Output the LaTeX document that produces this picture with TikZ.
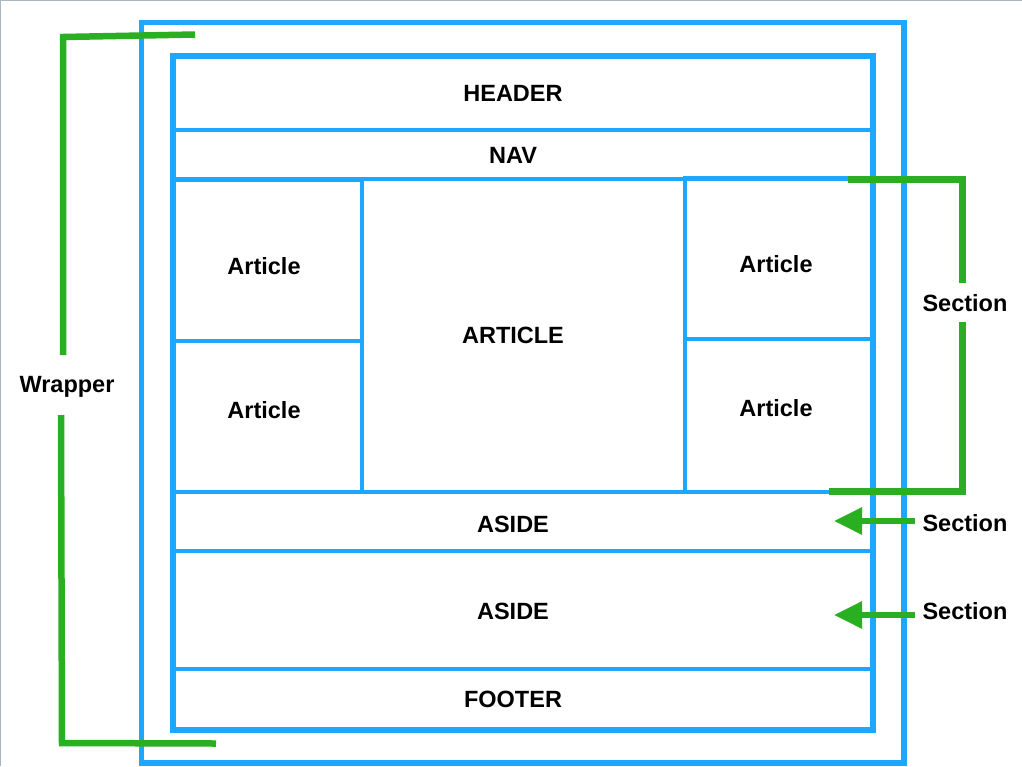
\documentclass[tikz,border=0pt]{standalone}
\usepackage{fontspec}
\setmainfont{Liberation Sans}
\usetikzlibrary{arrows.meta}
\definecolor{lblue}{RGB}{30,167,255}
\definecolor{lgreen}{RGB}{42,174,34}
\definecolor{edgegray}{RGB}{172,182,192}
\tikzset{
  boxed/.style={draw=lblue, line width=4pt, inner sep=0pt, outer sep=0pt},
  frame/.style={draw=lblue, line width=5.5pt, inner sep=0pt, outer sep=0pt},
  lbl/.style={font=\fontsize{23.5}{28}\selectfont\bfseries, text height=16.8pt, text depth=0pt, inner sep=0pt},
  grn/.style={draw=lgreen, line width=6.5pt},
  grnarr/.style={draw=lgreen, line width=6pt, -{Triangle[length=28pt,width=26pt]}},
}
\begin{document}
\begin{tikzpicture}[x=1pt,y=-1pt]
\useasboundingbox (0,0) rectangle (1022,766);
\fill[white] (0,0) rectangle (1022,766);
\draw[edgegray, line width=1.5pt] (0,766) -- (0,0) -- (1022,0);

% wrapper and inner frame
\node[frame, minimum width=762.5pt, minimum height=740.5pt] (wrapper) at (522.75,392.75) {};
\node[frame, minimum width=700pt, minimum height=674pt] (inner) at (523,393) {};

% rows
\node[boxed, minimum width=700pt, minimum height=74pt] (header) at (523,93) {};
\node[boxed, minimum width=700pt, minimum height=49pt] (nav) at (523,154.5) {};
\node[boxed, minimum width=189pt, minimum height=161pt] (la1) at (267.5,260) {};
\node[boxed, minimum width=189pt, minimum height=151pt] (la2) at (267.5,416) {};
\node[boxed, line width=4.5pt, minimum width=323pt, minimum height=313pt] (main) at (523.5,335.5) {};
\node[boxed, minimum width=188pt, minimum height=161pt] (ra1) at (779,258.5) {};
\node[boxed, minimum width=188pt, minimum height=152.5pt] (ra2) at (779,415.25) {};
\node[boxed, minimum width=700pt, minimum height=59pt] (aside1) at (523,521.5) {};
\node[boxed, minimum width=700pt, minimum height=118pt] (aside2) at (523,610) {};
\node[boxed, minimum width=700pt, minimum height=61pt] (footer) at (523,699.5) {};
\draw[lblue, line width=5.5pt] (inner.north west) rectangle (inner.south east);

% labels
\node[lbl] (tHeader) at (513,93) {HEADER};
\node[lbl] (tNav) at (513,155.5) {NAV};
\node[lbl] (tLa1) at (264,266) {Article};
\node[lbl] (tLa2) at (264,410) {Article};
\node[lbl] (tMain) at (513,335) {ARTICLE};
\node[lbl] (tRa1) at (776,264) {Article};
\node[lbl] (tRa2) at (776,408) {Article};
\node[lbl] (tAside1) at (513,524) {ASIDE};
\node[lbl] (tAside2) at (513,611.5) {ASIDE};
\node[lbl] (tFooter) at (513,699.5) {FOOTER};

% wrapper bracket
\node[lbl] (wrap) at (67,384) {Wrapper};
\coordinate (w1) at (195,34.5);
\coordinate (w2) at (63,37);
\coordinate (w3) at (63,355);
\coordinate (w4) at (61,415);
\coordinate (w5) at (62,743);
\coordinate (w6) at (216,743.5);
\draw[grn] (w1) -- (w2) -- (w3);
\draw[grn] (w4) -- (w5) -- (w6);

% section bracket
\node[lbl] (sec1) at (965,303.5) {Section};
\coordinate (s1) at (848,179.5);
\coordinate (s2) at (962.5,179.5);
\coordinate (s3) at (962.5,283);
\coordinate (s4) at (962.5,322);
\coordinate (s5) at (962.5,491.5);
\coordinate (s6) at (829,491.5);
\draw[grn] (s1) -- (s2) -- (s3);
\draw[grn] (s4) -- (s5) -- (s6);

% section arrows
\node[lbl, inner xsep=7pt] (sec2) at (965,523.5) {Section};
\node[lbl, inner xsep=7pt] (sec3) at (965,611.5) {Section};
\coordinate (tip1) at (834,521);
\coordinate (tip2) at (834,615);
\draw[grnarr] (sec2.west |- tip1) -- (tip1);
\draw[grnarr] (sec3.west |- tip2) -- (tip2);
\end{tikzpicture}
\end{document}
